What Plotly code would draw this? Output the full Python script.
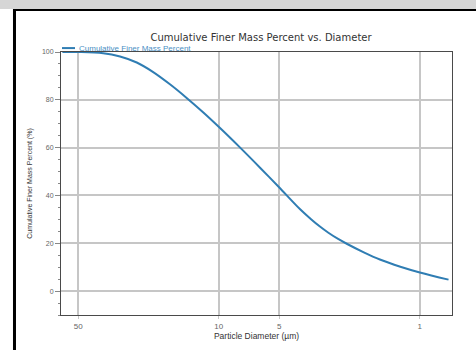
import plotly.graph_objects as go

# particle size distribution
diameter_um = [60, 50, 37.6, 31.0, 25.6, 21.2, 17.5, 14.5, 11.9, 9.86, 7.83, 6.2, 5.0, 3.94, 3.5, 3.14, 2.85, 2.55, 2.31, 1.9, 1.58, 1.25, 1.0, 0.72]
finer_pct = [100, 100, 99.5, 98.1, 95.6, 91.6, 86.5, 80.9, 74.6, 68.2, 60.0, 51.4, 43.3, 34.2, 30.3, 27.0, 24.4, 21.8, 19.8, 16.2, 13.2, 10.2, 7.8, 4.8]

x_ticks = [50, 10, 5, 1]
y_ticks = [0, 20, 40, 60, 80, 100]

series_name = "Cumulative Finer Mass Percent"
line_color = "#2f7db3"
legend_text_color = "#4a8fc4"
grid_color = "#c6c6c6"
frame_color = "#4a4a4a"

fig = go.Figure(go.Scatter(
    x=diameter_um,
    y=finer_pct,
    mode="lines",
    name=series_name,
    line=dict(color=line_color, width=2, shape="spline", smoothing=1.0),
    showlegend=False,
))

fig.update_layout(
    width=476, height=350,
    margin=dict(l=61, r=24, t=52, b=29),
    paper_bgcolor="white", plot_bgcolor="white",
    font=dict(family="Liberation Sans, Arial", size=8, color="#555"),
    title=dict(text="Cumulative Finer Mass Percent vs. Diameter",
               font=dict(family="DejaVu Sans", size=10, color="#333"),
               x=261 / 476, xanchor="center", y=1 - 37 / 350, yanchor="middle"),
)

fig.update_xaxes(
    type="log", range=[1.785, -0.16],
    tickvals=x_ticks, ticktext=[str(v) for v in x_ticks],
    showgrid=True, gridcolor=grid_color, gridwidth=2,
    showline=True, linecolor=frame_color, linewidth=1, mirror=True,
    ticks="outside", ticklen=3, tickcolor=grid_color,
    tickfont=dict(size=8, color="#666"),
    title=dict(text="Particle Diameter (µm)", font=dict(size=8.5, color="#333"), standoff=1),
    zeroline=False,
)
fig.update_yaxes(
    range=[-10, 100],
    tickvals=y_ticks,
    showgrid=True, gridcolor=grid_color, gridwidth=2,
    showline=True, linecolor=frame_color, linewidth=1, mirror=True,
    ticks="outside", ticklen=5, tickcolor="#888",
    minor=dict(dtick=5, ticks="outside", ticklen=2, tickcolor="#888", showgrid=False),
    tickfont=dict(size=7, color="#666"),
    title=dict(text="Cumulative Finer Mass Percent (%)",
               font=dict(family="Liberation Sans Narrow, Arial Narrow, Liberation Sans", size=7, color="#333"),
               standoff=8),
    zeroline=False,
)

# small legend in the top-left corner: short line sample plus the series name
fig.add_shape(type="line", xref="paper", yref="paper", x0=0.0026, x1=0.0358, y0=1.0149, y1=1.0149,
              line=dict(color=line_color, width=2))
fig.add_annotation(text=series_name, xref="paper", yref="paper", x=0.041, y=1.0149,
                   xanchor="left", yanchor="middle", showarrow=False,
                   font=dict(size=8, color=legend_text_color))

# window chrome around the chart: grey strip on top, black rule and black left bar
fig.add_shape(type="rect", xref="paper", yref="paper", x0=-0.2, x1=1.1, y0=1.1636, y1=1.25,
              fillcolor="#d6d6d6", line_width=0, layer="above")
fig.add_shape(type="rect", xref="paper", yref="paper", x0=-0.1228, x1=1.1, y0=1.156, y1=1.1636,
              fillcolor="black", line_width=0, layer="above")
fig.add_shape(type="rect", xref="paper", yref="paper", x0=-0.1228, x1=-0.1151, y0=-0.2, y1=1.1636,
              fillcolor="black", line_width=0, layer="above")

# drop the default page margin so the 476x350 figure fills the window exactly
fig.write_html("out.html", config={"displayModeBar": False},
               post_script="document.body.style.margin='0px';")
